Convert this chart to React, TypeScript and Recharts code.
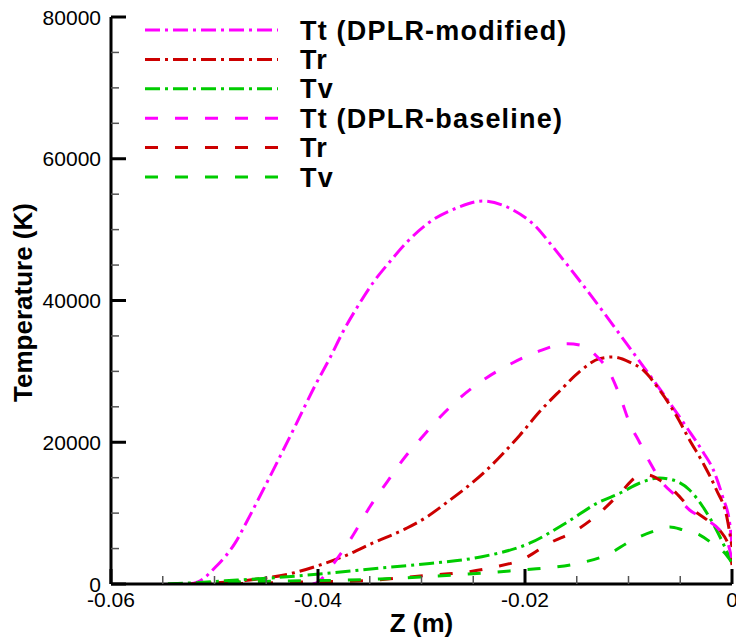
import React from 'react';
import { LineChart, Line, XAxis, YAxis, Legend } from 'recharts';

const FONT = '"Liberation Sans", Arial, Helvetica, sans-serif';
const MAGENTA = '#ff00ff';
const RED = '#cc0000';
const GREEN = '#00cc00';
const DASHDOT = '15 5 3 5';
const DASHED = '13 17';

// Tt (DPLR-modified)
const ttModZ = [-0.0525, -0.0516, -0.0498, -0.048, -0.0469, -0.0458, -0.0422, -0.0403, -0.0388, -0.0376, -0.0362, -0.0347, -0.033, -0.0313, -0.0292, -0.0266, -0.0241, -0.0212, -0.0188, -0.0176, -0.015, -0.0115, -0.0096, -0.0067, -0.0044, -0.0028, -0.0018, -0.0009, -0.0002, 0];
const ttModT = [0, 300, 2540, 5800, 8750, 11850, 22290, 27940, 32030, 35560, 39080, 42470, 45580, 48400, 51080, 53050, 54040, 52800, 50200, 48100, 43320, 36540, 32740, 26950, 22150, 18630, 16090, 12280, 8320, 5500];

// Tr (DPLR-modified)
const trModZ = [-0.0525, -0.0466, -0.0424, -0.0401, -0.0372, -0.0347, -0.0314, -0.0295, -0.0275, -0.0256, -0.0237, -0.022, -0.0205, -0.0186, -0.0166, -0.0147, -0.0128, -0.0115, -0.0099, -0.0086, -0.007, -0.0053, -0.0041, -0.0028, -0.0015, -0.0005, 0];
const trModT = [0, 560, 1550, 2540, 4090, 5790, 7900, 9450, 11570, 13690, 16090, 18600, 21000, 24300, 27300, 30000, 31800, 32030, 31320, 30200, 27370, 23560, 20320, 17070, 13260, 9450, 5220];

// Tv (DPLR-modified)
const tvModZ = [-0.0545, -0.0507, -0.0478, -0.0446, -0.042, -0.0388, -0.034, -0.0292, -0.0243, -0.0195, -0.0159, -0.013, -0.0108, -0.0089, -0.007, -0.0057, -0.0041, -0.0028, -0.0015, 0];
const tvModT = [0, 280, 560, 850, 1130, 1550, 2260, 2900, 3810, 5790, 8750, 11430, 12840, 14250, 14960, 14670, 13260, 10860, 7620, 2960];

// Tt (DPLR-baseline)
const ttBaseZ = [-0.0405, -0.04, -0.0386, -0.0366, -0.035, -0.0333, -0.0314, -0.0301, -0.0282, -0.0263, -0.0237, -0.0214, -0.0188, -0.0159, -0.0147, -0.013, -0.0118, -0.0108, -0.0099, -0.0089, -0.0079, -0.0067, -0.0053, -0.0041, -0.0024, -0.0012, -0.0004, 0];
const ttBaseT = [0, 280, 2680, 6910, 10860, 14460, 18270, 20460, 23560, 26240, 29110, 31040, 32760, 33900, 33720, 32030, 29770, 26390, 22720, 19900, 17070, 14250, 12280, 10440, 9030, 7620, 5790, 3390];

// Tr (DPLR-baseline)
const trBaseZ = [-0.0485, -0.0417, -0.0362, -0.0292, -0.0256, -0.0229, -0.0202, -0.0176, -0.015, -0.0128, -0.0108, -0.0092, -0.0081, -0.007, -0.0057, -0.0041, -0.0024, -0.0012, -0.0002, 0];
const trBaseT = [0, 280, 420, 1250, 1690, 2400, 3500, 5790, 7620, 10020, 12840, 15100, 15380, 14670, 13260, 10860, 9030, 7620, 4800, 2680];

// Tv (DPLR-baseline)
const tvBaseZ = [-0.0545, -0.0478, -0.0427, -0.0372, -0.034, -0.0285, -0.0256, -0.0227, -0.0205, -0.0176, -0.0147, -0.0121, -0.0096, -0.0072, -0.006, -0.0047, -0.0031, -0.0017, -0.0007, 0];
const tvBaseT = [0, 280, 420, 560, 700, 1130, 1400, 1700, 1970, 2300, 2960, 4090, 6210, 7620, 8040, 7620, 6900, 5500, 4370, 3000];

const xMajorTicks = [-0.06, -0.04, -0.02, 0];
const xMajorLabels = ['-0.06', '-0.04', '-0.02', '0'];
const xMinorTicks = [-0.055, -0.05, -0.045, -0.035, -0.03, -0.025, -0.015, -0.01, -0.005];
const yMajorTicks = [0, 20000, 40000, 60000, 80000];
const yMajorLabels = ['0', '20000', '40000', '60000', '80000'];
const yMinorTicks = [5000, 10000, 15000, 25000, 30000, 35000, 45000, 50000, 55000, 65000, 70000, 75000];

const zip = (zs: number[], ts: number[]) => zs.map((z, i) => ({ z, t: ts[i] }));

const series = [
  { name: 'Tt (DPLR-modified)', data: zip(ttModZ, ttModT), color: MAGENTA, dash: DASHDOT },
  { name: 'Tr', data: zip(trModZ, trModT), color: RED, dash: DASHDOT },
  { name: 'Tv', data: zip(tvModZ, tvModT), color: GREEN, dash: DASHDOT },
  { name: 'Tt (DPLR-baseline)', data: zip(ttBaseZ, ttBaseT), color: MAGENTA, dash: DASHED },
  { name: 'Tr', data: zip(trBaseZ, trBaseT), color: RED, dash: DASHED },
  { name: 'Tv', data: zip(tvBaseZ, tvBaseT), color: GREEN, dash: DASHED },
];

const majorIndex = (arr: number[], v: number) => arr.findIndex((a) => Math.abs(a - v) < 1e-9);

const XTick = (props: any) => {
  const { x, y, payload } = props;
  const mi = majorIndex(xMajorTicks, payload.value);
  const major = mi >= 0;
  return (
    <g>
      <line x1={x} x2={x} y1={y} y2={y - (major ? 15 : 8)} stroke={major ? '#000' : '#555'} strokeWidth={major ? 3 : 1.5} />
      {major && (
        <text x={x} y={y + 23} textAnchor="middle" fontFamily={FONT} fontSize={21} fill="#000">
          {xMajorLabels[mi]}
        </text>
      )}
    </g>
  );
};

const YTick = (props: any) => {
  const { x, y, payload } = props;
  const mi = majorIndex(yMajorTicks, payload.value);
  const major = mi >= 0;
  return (
    <g>
      <line x1={x} x2={x + (major ? 15 : 8)} y1={y} y2={y} stroke={major ? '#000' : '#555'} strokeWidth={major ? 3 : 1.5} />
      {major && (
        <text x={x - 10} y={y + 7.5} textAnchor="end" fontFamily={FONT} fontSize={21} fill="#000">
          {yMajorLabels[mi]}
        </text>
      )}
    </g>
  );
};

const YTitle = (props: any) => {
  const vb = props.viewBox || { x: 0, y: 17, width: 111, height: 567 };
  const cx = vb.x + 32;
  const cy = vb.y + vb.height / 2 + 2;
  return (
    <text x={cx} y={cy} transform={`rotate(-90, ${cx}, ${cy})`} textAnchor="middle" fontFamily={FONT} fontWeight="bold" fontSize={26} fill="#000">
      Temperature (K)
    </text>
  );
};

const XTitle = (props: any) => {
  const vb = props.viewBox || { x: 111, y: 584, width: 621, height: 57 };
  return (
    <text x={vb.x + vb.width / 2} y={vb.y + 48} textAnchor="middle" fontFamily={FONT} fontWeight="bold" fontSize={26} fill="#000">
      Z (m)
    </text>
  );
};

const LegendBox = () => (
  <svg width={470} height={180} style={{ display: 'block', overflow: 'visible' }}>
    {series.map((s, i) => {
      const cy = 16 + i * 29.4;
      return (
        <g key={i}>
          <line x1={5} x2={138} y1={cy} y2={cy} stroke={s.color} strokeWidth={3} strokeDasharray={s.dash} />
          <text x={160} y={cy + 9.5} fontFamily={FONT} fontWeight="bold" fontSize={27} letterSpacing={1.2} fill="#000">
            {s.name}
          </text>
        </g>
      );
    })}
  </svg>
);

export default function App() {
  return (
    <div style={{ position: 'absolute', left: 0, top: 0, background: '#fff' }}>
      <LineChart width={736} height={641} margin={{ top: 17, right: 4, bottom: 0, left: 0 }}>
        <XAxis
          type="number"
          dataKey="z"
          domain={[-0.06, 0]}
          allowDataOverflow
          ticks={[...xMajorTicks, ...xMinorTicks].sort((a, b) => a - b)}
          interval={0}
          tickSize={0}
          tickMargin={0}
          tickLine={false}
          tick={XTick}
          axisLine={{ stroke: '#000', strokeWidth: 3 }}
          height={57}
          label={XTitle}
        />
        <YAxis
          type="number"
          dataKey="t"
          domain={[0, 80000]}
          allowDataOverflow
          ticks={[...yMajorTicks, ...yMinorTicks].sort((a, b) => a - b)}
          interval={0}
          tickSize={0}
          tickMargin={0}
          tickLine={false}
          tick={YTick}
          axisLine={{ stroke: '#000', strokeWidth: 3 }}
          width={111}
          label={YTitle}
        />
        <Legend
          layout="horizontal"
          verticalAlign="middle"
          align="center"
          wrapperStyle={{ left: 140, top: 14, width: 470, height: 180 }}
          content={LegendBox}
        />
        {series.map((s, i) => (
          <Line
            key={i}
            data={s.data}
            dataKey="t"
            name={s.name}
            type="monotone"
            stroke={s.color}
            strokeWidth={3}
            strokeDasharray={s.dash}
            dot={false}
            activeDot={false}
            isAnimationActive={false}
          />
        ))}
      </LineChart>
    </div>
  );
}
